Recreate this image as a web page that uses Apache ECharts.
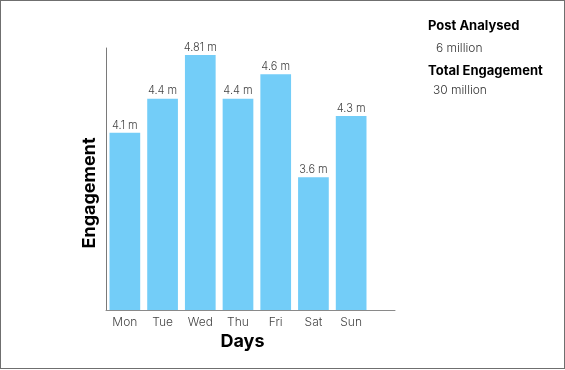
<!DOCTYPE html>
<html>
<head>
<meta charset="utf-8">
<script src="https://cdn.jsdelivr.net/npm/echarts@6/dist/echarts.min.js"></script>
<style>
html,body{margin:0;padding:0;background:#fff;}
#chart{width:563px;height:367px;border:1px solid #6f6f6f;}
</style>
</head>
<body>
<div id="chart"></div>
<script>
const days = ['Mon','Tue','Wed','Thu','Fri','Sat','Sun'];
const engagement = [4.03, 4.42, 4.92, 4.42, 4.70, 3.52, 4.22];
const valueLabels = ['4.1 m','4.4 m','4.81 m','4.4 m','4.6 m','3.6 m','4.3 m'];
const summaryTitles = ['Post Analysed','Total Engagement'];
const summaryValues = ['6 million','30 million'];

const FONT = 'Inter, "Noto Sans", sans-serif';
const chart = echarts.init(document.getElementById('chart'));

const graphics = [
  {type:'text', x:89, y:192, rotation:Math.PI/2,
   style:{text:'Engagement', font:'bold 18px ' + FONT, fill:'#000', align:'center', verticalAlign:'middle'}},
  {type:'text', x:427, y:25, style:{text:summaryTitles[0], font:'bold 13px ' + FONT, fill:'#000', verticalAlign:'middle'}},
  {type:'text', x:435, y:47, style:{text:summaryValues[0], font:'300 12px ' + FONT, fill:'#333', verticalAlign:'middle'}},
  {type:'text', x:427, y:70, style:{text:summaryTitles[1], font:'bold 13px ' + FONT, fill:'#000', verticalAlign:'middle'}},
  {type:'text', x:432, y:89, style:{text:summaryValues[1], font:'300 12px ' + FONT, fill:'#333', verticalAlign:'middle'}}
];

chart.setOption({
  animation:false,
  textStyle:{fontFamily:FONT},
  grid:[
    {left:105, top:47, width:264, bottom:58},
    {left:105, top:47, width:289, bottom:58}
  ],
  xAxis:[
    {type:'category', gridIndex:0, data:days,
     axisLine:{show:false}, axisTick:{show:false},
     axisLabel:{color:'#444', fontSize:12, fontWeight:300, margin:6},
     name:'Days', nameLocation:'middle', nameGap:19,
     nameTextStyle:{color:'#000', fontSize:18, fontWeight:'bold', padding:[0,0,0,9]}},
    {type:'value', gridIndex:1, min:0, max:1,
     axisLine:{show:true, lineStyle:{color:'#8a8a8a', width:1}},
     axisTick:{show:false}, axisLabel:{show:false}, splitLine:{show:false}}
  ],
  yAxis:[
    {type:'value', gridIndex:0, min:2, max:5,
     axisLine:{show:true, lineStyle:{color:'#7a7a7a', width:1}},
     axisTick:{show:false}, axisLabel:{show:false}, splitLine:{show:false}},
    {type:'value', gridIndex:1, show:false, min:0, max:1}
  ],
  series:[{
    type:'bar', xAxisIndex:0, yAxisIndex:0,
    data:engagement,
    barCategoryGap:'18.6%',
    itemStyle:{color:'#73cdf8'},
    label:{show:true, position:'top', distance:2, color:'#444', fontSize:11, fontWeight:300,
      formatter:p => valueLabels[p.dataIndex]}
  }],
  graphic:graphics
});
</script>
</body>
</html>
